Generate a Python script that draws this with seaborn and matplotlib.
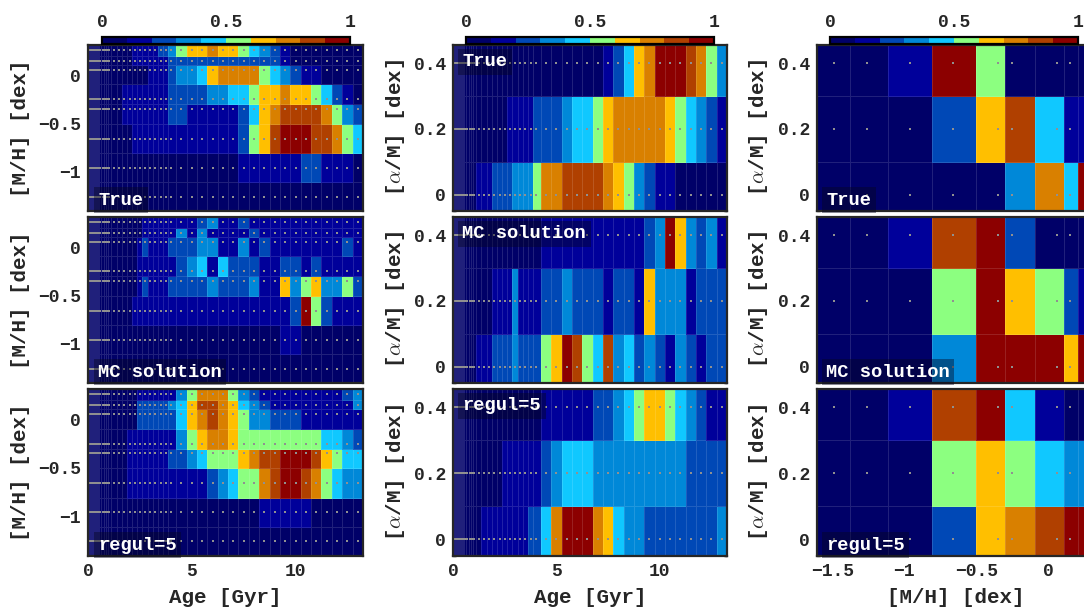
import numpy as np
import pandas as pd
import matplotlib
matplotlib.use("Agg")
import matplotlib.pyplot as plt
from matplotlib.colors import ListedColormap, Normalize
from matplotlib.cm import ScalarMappable
from matplotlib.ticker import MultipleLocator
import seaborn as sns

# ---------------- grids ----------------
ages = [0.03, 0.04, 0.05, 0.06, 0.07, 0.08, 0.09, 0.10, 0.15, 0.20,
        0.25, 0.30, 0.35, 0.40, 0.45, 0.50, 0.60, 0.70, 0.80, 0.90,
        1.00, 1.25, 1.50, 1.75, 2.00, 2.25, 2.50, 2.75, 3.00, 3.25,
        3.50, 3.75, 4.00, 4.5, 5.0, 5.5, 6.0, 6.5, 7.0, 7.5,
        8.0, 8.5, 9.0, 9.5, 10.0, 10.5, 11.0, 11.5, 12.0, 12.5, 13.0]
mh_rows = [0.26, 0.15, 0.06, -0.25, -0.35, -0.66, -0.96, -1.26]   # top -> bottom
alpha_rows = [0.4, 0.2, 0.0]                                       # top -> bottom
mh_cols = [-1.49, -1.26, -0.96, -0.66, -0.35, -0.25, 0.06, 0.15, 0.26]

# weight levels (0..9, colour-bar bins) for ages < 1 Gyr (20 young ages)
young_levels = [0, 0, 0, 0, 0, 0, 0, 0, 0, 0, 0, 0, 0, 0, 0, 0, 0, 0, 0, 0]

# ---- Age vs [M/H] panels: levels for ages >= 1 Gyr (31 ages) ----
true_age_mh = [
    [0, 0, 0, 0, 0, 1, 1, 1, 1, 1, 2, 2, 3, 5, 6, 6, 7, 6, 6, 5, 4, 3, 2, 1, 0, 0, 0, 0, 0, 0, 0],
    [0, 0, 0, 0, 0, 1, 1, 1, 1, 1, 1, 1, 2, 2, 2, 2, 2, 2, 2, 2, 2, 2, 2, 1, 0, 0, 0, 0, 0, 0, 0],
    [0, 0, 0, 0, 0, 0, 0, 0, 1, 1, 1, 1, 2, 3, 3, 4, 6, 7, 7, 7, 7, 5, 4, 3, 2, 1, 1, 0, 0, 0, 0],
    [0, 0, 0, 1, 1, 1, 1, 1, 1, 1, 1, 1, 2, 2, 2, 2, 3, 3, 4, 4, 5, 6, 6, 7, 6, 6, 5, 4, 2, 1, 0],
    [0, 0, 0, 1, 1, 1, 1, 1, 1, 1, 1, 1, 2, 2, 1, 1, 1, 1, 1, 2, 4, 6, 7, 8, 8, 8, 8, 7, 5, 3, 2],
    [0, 0, 0, 0, 0, 1, 1, 1, 1, 1, 1, 1, 1, 1, 1, 1, 1, 1, 1, 2, 5, 6, 8, 9, 9, 9, 8, 8, 7, 5, 4],
    [0, 0, 0, 0, 0, 0, 0, 0, 0, 0, 0, 0, 0, 0, 0, 0, 0, 0, 0, 1, 1, 1, 1, 1, 1, 2, 2, 1, 1, 1, 0],
    [0, 0, 0, 0, 0, 0, 0, 0, 0, 0, 0, 0, 0, 0, 0, 0, 0, 0, 0, 0, 0, 0, 0, 0, 0, 0, 0, 0, 0, 0, 0],
]
mc_age_mh = [
    [0, 0, 0, 0, 0, 0, 0, 1, 1, 1, 1, 1, 1, 1, 1, 2, 3, 1, 1, 2, 1, 1, 1, 1, 1, 1, 1, 1, 1, 1, 1],
    [0, 0, 0, 0, 0, 0, 0, 1, 1, 1, 1, 1, 1, 3, 1, 3, 1, 1, 1, 1, 2, 1, 1, 1, 1, 1, 1, 1, 1, 1, 1],
    [0, 0, 0, 0, 0, 0, 1, 2, 1, 1, 1, 1, 2, 2, 2, 3, 3, 1, 1, 3, 1, 2, 1, 1, 1, 1, 1, 1, 1, 2, 1],
    [0, 0, 0, 0, 0, 0, 1, 1, 1, 1, 1, 1, 1, 2, 3, 4, 1, 4, 2, 2, 2, 1, 1, 2, 2, 1, 2, 1, 1, 1, 1],
    [0, 0, 0, 0, 0, 0, 1, 2, 1, 1, 1, 1, 2, 2, 2, 2, 3, 2, 2, 2, 3, 1, 1, 6, 3, 5, 6, 3, 3, 5, 2],
    [0, 0, 0, 0, 0, 1, 1, 1, 1, 1, 1, 1, 1, 1, 1, 1, 1, 1, 1, 1, 1, 1, 1, 1, 2, 9, 5, 2, 1, 1, 1],
    [0, 0, 0, 0, 0, 0, 0, 0, 0, 0, 0, 0, 0, 0, 0, 0, 0, 0, 0, 0, 0, 0, 0, 1, 1, 0, 0, 0, 0, 0, 0],
    [0, 0, 0, 0, 0, 0, 0, 0, 0, 0, 0, 0, 0, 0, 0, 0, 0, 0, 0, 0, 0, 0, 0, 0, 0, 0, 0, 0, 0, 0, 0],
]
regul_age_mh = [
    [0, 0, 0, 0, 0, 0, 1, 1, 1, 1, 1, 1, 1, 3, 5, 7, 7, 7, 5, 3, 2, 1, 1, 1, 1, 1, 1, 1, 1, 2, 3],
    [0, 0, 0, 0, 0, 0, 2, 2, 2, 2, 2, 2, 3, 4, 6, 8, 8, 7, 6, 4, 3, 2, 1, 1, 1, 1, 1, 1, 1, 1, 3],
    [0, 0, 0, 0, 0, 0, 2, 2, 2, 2, 2, 2, 2, 4, 6, 7, 8, 7, 6, 5, 3, 3, 2, 2, 2, 1, 1, 1, 1, 1, 1],
    [0, 0, 0, 0, 1, 1, 1, 1, 1, 1, 1, 1, 1, 3, 5, 6, 7, 7, 6, 5, 5, 5, 5, 5, 5, 5, 5, 4, 4, 3, 2],
    [0, 0, 0, 0, 1, 1, 1, 1, 1, 1, 1, 1, 2, 2, 3, 4, 5, 5, 5, 6, 7, 8, 8, 9, 9, 9, 8, 6, 5, 4, 4],
    [0, 0, 0, 0, 1, 1, 1, 1, 1, 1, 1, 1, 1, 1, 1, 1, 2, 3, 4, 5, 5, 7, 8, 9, 9, 8, 7, 5, 4, 3, 3],
    [0, 0, 0, 0, 0, 0, 0, 0, 0, 0, 0, 0, 0, 0, 0, 0, 0, 0, 0, 0, 0, 1, 1, 1, 1, 1, 0, 0, 0, 0, 0],
    [0, 0, 0, 0, 0, 0, 0, 0, 0, 0, 0, 0, 0, 0, 0, 0, 0, 0, 0, 0, 0, 0, 0, 0, 0, 0, 0, 0, 0, 0, 0],
]

# ---- Age vs [alpha/M] panels ----
true_age_alpha = [
    [0, 0, 0, 0, 0, 0, 0, 0, 0, 0, 0, 0, 0, 0, 0, 0, 0, 0, 0, 1, 2, 4, 6, 7, 9, 9, 9, 8, 7, 5, 3],
    [0, 0, 0, 0, 0, 0, 0, 1, 1, 1, 1, 1, 2, 2, 2, 3, 4, 4, 5, 6, 7, 7, 7, 7, 7, 6, 5, 4, 3, 2, 1],
    [0, 1, 1, 1, 2, 2, 2, 2, 3, 3, 3, 3, 5, 7, 7, 8, 8, 8, 8, 7, 6, 5, 3, 2, 1, 1, 0, 0, 0, 0, 0],
]
mc_age_alpha = [
    [0, 0, 0, 0, 0, 0, 0, 0, 0, 0, 0, 0, 0, 1, 1, 1, 1, 1, 1, 1, 1, 1, 1, 2, 3, 9, 6, 3, 2, 3, 1],
    [0, 0, 0, 0, 1, 1, 1, 1, 3, 1, 1, 1, 1, 2, 2, 3, 2, 2, 2, 1, 2, 2, 1, 6, 3, 3, 3, 1, 2, 2, 2],
    [0, 1, 1, 1, 2, 2, 2, 2, 3, 2, 2, 2, 2, 5, 6, 9, 8, 5, 4, 8, 3, 4, 2, 3, 2, 1, 3, 2, 1, 2, 2],
]
regul_age_alpha = [
    [0, 0, 0, 0, 0, 0, 0, 0, 0, 0, 0, 0, 0, 1, 1, 1, 1, 1, 2, 2, 3, 4, 5, 6, 6, 5, 4, 3, 2, 1, 1],
    [0, 0, 0, 0, 0, 0, 1, 1, 1, 1, 1, 1, 1, 2, 3, 4, 4, 4, 3, 3, 3, 3, 3, 3, 3, 3, 3, 2, 2, 2, 2],
    [0, 0, 1, 1, 1, 1, 1, 1, 1, 1, 1, 2, 2, 4, 7, 9, 9, 9, 7, 6, 4, 3, 3, 2, 2, 2, 2, 2, 2, 2, 3],
]

# ---- [M/H] vs [alpha/M] panels ----
true_mh_alpha = [
    [0, 0, 1, 9, 5, 0, 0, 0, 0],
    [0, 0, 0, 2, 6, 8, 4, 1, 1],
    [0, 0, 0, 0, 0, 3, 7, 4, 9],
]
mc_mh_alpha = [
    [0, 0, 1, 8, 9, 2, 0, 0, 0],
    [0, 0, 0, 5, 9, 6, 5, 2, 1],
    [0, 0, 0, 3, 9, 9, 9, 6, 9],
]
regul_mh_alpha = [
    [0, 0, 1, 8, 9, 4, 1, 0, 0],
    [0, 0, 0, 5, 6, 5, 4, 3, 3],
    [0, 0, 0, 2, 6, 7, 8, 9, 9],
]

panel_labels = ["True", "MC solution", "regul=5"]
cbar_ticks = [0, 0.5, 1]
cbar_ticklabels = ["0", "0.5", "1"]
jet10 = ['#000068', '#00009a', '#0048b6', '#0088d8', '#10c8ff',
         '#8cff80', '#ffbf00', '#d98000', '#b04000', '#8c0000']

# ---------------- style ----------------
sns.set_theme(style="ticks")
plt.rcParams['font.family'] = ['Liberation Mono', 'DejaVu Sans']
plt.rcParams['font.weight'] = 'bold'
plt.rcParams['axes.labelweight'] = 'bold'
plt.rcParams['mathtext.fontset'] = 'cm'
plt.rcParams['axes.unicode_minus'] = True

cmap = ListedColormap(jet10)
W_PX, H_PX = 1084, 608
fig = plt.figure(figsize=(W_PX / 100, H_PX / 100), dpi=100)


def rect(l, t, w, h):
    return [l / W_PX, (H_PX - t - h) / H_PX, w / W_PX, h / H_PX]


def edges(c):
    c = np.asarray(sorted(c), float)
    mid = (c[1:] + c[:-1]) / 2
    return np.concatenate([[1.5 * c[0] - c[1] / 2], mid, [1.5 * c[-1] - c[-2] / 2]])


def draw_panel(ax, xs, ys, levels):
    X, Y = np.meshgrid(xs, ys)
    Wt = (np.asarray(levels, float) + 0.5) / 10.0
    df = pd.DataFrame({'x': X.ravel(), 'y': Y.ravel(), 'w': Wt.ravel()})
    sns.histplot(data=df, x='x', y='y', weights='w', bins=[edges(xs), edges(ys)],
                 cmap=cmap, vmin=0, vmax=1, thresh=None, ax=ax,
                 edgecolor=(1, 1, 1, 0.13), linewidth=0.5)
    sns.scatterplot(data=df, x='x', y='y', ax=ax, s=1.6, color='#909090',
                    marker='s', linewidth=0, legend=False, zorder=3)
    ax.set_facecolor(jet10[0])


def full_rows(coarse_rows):
    return [young_levels + list(r) for r in coarse_rows]


col_left = [88, 453, 817]
col_w = [275, 274, 277]
row_top = [45, 217, 389]
row_h = [166, 166, 167]

panels = [
    [full_rows(true_age_mh), full_rows(true_age_alpha), true_mh_alpha],
    [full_rows(mc_age_mh), full_rows(mc_age_alpha), mc_mh_alpha],
    [full_rows(regul_age_mh), full_rows(regul_age_alpha), regul_mh_alpha],
]

for r in range(3):
    for c in range(3):
        ax = fig.add_axes(rect(col_left[c], row_top[r], col_w[c], row_h[r]))
        if c == 0:
            draw_panel(ax, ages, mh_rows, panels[r][c])
            ax.set_xlim(0, 13.25)
            ax.set_ylim(-1.41, 0.315)
            ax.set_yticks([-1, -0.5, 0])
            ax.set_yticklabels(['\u22121', '\u22120.5', '0'])
            ax.yaxis.set_minor_locator(MultipleLocator(0.1))
            ax.set_xticks([0, 5, 10])
            ax.set_xticklabels(['0', '5', '10'])
            ax.xaxis.set_minor_locator(MultipleLocator(1))
            ax.set_ylabel('[M/H] [dex]', fontsize=15)
            ax.yaxis.set_label_coords(-0.211, 0.5)
            xlab = 'Age [Gyr]'
        elif c == 1:
            draw_panel(ax, ages, alpha_rows, panels[r][c])
            ax.set_xlim(0, 13.25)
            ax.set_ylim(-0.05, 0.455)
            ax.set_yticks([0, 0.2, 0.4])
            ax.set_yticklabels(['0', '0.2', '0.4'])
            ax.yaxis.set_minor_locator(MultipleLocator(0.05))
            ax.set_xticks([0, 5, 10])
            ax.set_xticklabels(['0', '5', '10'])
            ax.xaxis.set_minor_locator(MultipleLocator(1))
            ax.set_ylabel(r'[$\alpha$/M] [dex]', fontsize=15)
            ax.yaxis.set_label_coords(-0.168, 0.5)
            xlab = 'Age [Gyr]'
        else:
            draw_panel(ax, mh_cols, alpha_rows, panels[r][c])
            ax.set_xlim(-1.605, 0.315)
            ax.set_ylim(-0.05, 0.455)
            ax.set_yticks([0, 0.2, 0.4])
            ax.set_yticklabels(['0', '0.2', '0.4'])
            ax.yaxis.set_minor_locator(MultipleLocator(0.05))
            ax.set_xticks([-1.5, -1, -0.5, 0])
            ax.set_xticklabels(['\u22121.5', '\u22121', '\u22120.5', '0'])
            ax.xaxis.set_minor_locator(MultipleLocator(0.1))
            ax.set_ylabel(r'[$\alpha$/M] [dex]', fontsize=15)
            ax.yaxis.set_label_coords(-0.170, 0.5)
            xlab = '[M/H] [dex]'

        ax.tick_params(which='both', direction='in', top=True, right=True,
                       color='black', labelsize=13, pad=5)
        ax.tick_params(which='major', length=5, width=1.2)
        ax.tick_params(which='minor', length=2.5, width=1.0)
        for sp in ax.spines.values():
            sp.set_linewidth(1.6)
            sp.set_color('#262626')
            sp.set_zorder(5)
        if r < 2:
            ax.set_xlabel('')
            ax.tick_params(labelbottom=False)
        else:
            ax.set_xlabel(xlab, fontsize=15)
            ax.xaxis.set_label_coords(0.5, -0.19)

        # panel label with translucent dark box
        bbox = dict(boxstyle='square,pad=0.24', fc=(0.02, 0.02, 0.12),
                    ec='none', alpha=0.42)
        if c == 1:
            ax.annotate(panel_labels[r], xy=(0, 1), xycoords='axes fraction',
                        xytext=(6.8, -12.2), textcoords='offset points',
                        ha='left', va='center', color='white', fontsize=13.5,
                        fontweight='bold', bbox=bbox, zorder=6,
                        annotation_clip=False)
        else:
            ax.annotate(panel_labels[r], xy=(0, 0), xycoords='axes fraction',
                        xytext=(7.3 if c == 0 else 6.6, 7.9),
                        textcoords='offset points',
                        ha='left', va='center', color='white', fontsize=13.5,
                        fontweight='bold', bbox=bbox, zorder=6,
                        annotation_clip=False)

# ---------------- colour bars ----------------
norm = Normalize(0, 1)
for c in range(3):
    cax = fig.add_axes(rect(col_left[c] + (14 if c == 0 else 13), 37, 248, 7))
    cb = fig.colorbar(ScalarMappable(norm=norm, cmap=cmap), cax=cax,
                      orientation='horizontal', ticks=cbar_ticks)
    cax.xaxis.set_ticks_position('top')
    cax.xaxis.set_label_position('top')
    cax.set_xticklabels(cbar_ticklabels)
    cax.tick_params(direction='in', length=3, width=1.2, labelsize=13, pad=4,
                    color='black')
    cb.outline.set_linewidth(1.6)
    cb.outline.set_edgecolor('black')

fig.savefig('out.png', dpi=100, facecolor='white')
